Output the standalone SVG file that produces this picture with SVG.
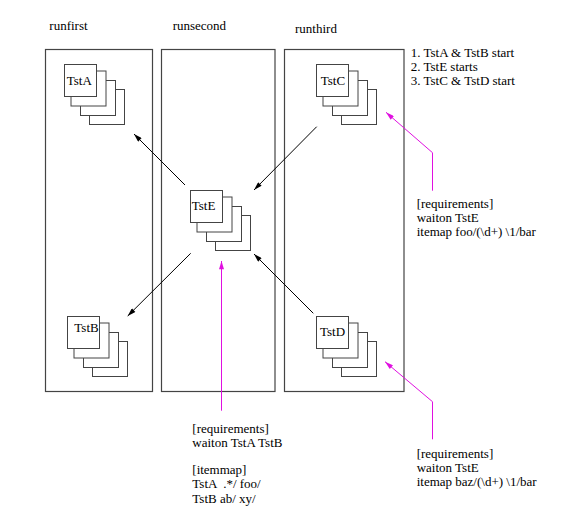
<svg xmlns="http://www.w3.org/2000/svg" width="570" height="523" viewBox="0 0 570 523">
<style>
.col{fill:none;stroke:#444;stroke-width:1.2}
.bx{fill:#fff;stroke:#444;stroke-width:1}
.t{font-family:"Liberation Serif","Times New Roman",serif;font-size:13px;fill:#000}
.blk{stroke:#000;stroke-width:1;fill:none}
.mag{stroke:#e010e0;stroke-width:1;fill:none}
</style>
<defs>
<marker id="ab" markerUnits="userSpaceOnUse" viewBox="0 0 10 6" markerWidth="10" markerHeight="5" refX="10" refY="3" orient="auto">
<path d="M0,0 L10,3 L0,6 Z" fill="#000"/>
</marker>
<marker id="am" markerUnits="userSpaceOnUse" viewBox="0 0 10 6" markerWidth="10" markerHeight="5" refX="10" refY="3" orient="auto">
<path d="M0,0 L10,3 L0,6 Z" fill="#e010e0"/>
</marker>
<g id="stack">
<rect class="bx" x="25" y="25" width="35" height="35"/>
<rect class="bx" x="16" y="16" width="35" height="35"/>
<rect class="bx" x="6.5" y="6.5" width="35" height="35"/>
<rect class="bx" x="0" y="0" width="32" height="32"/>
</g>
</defs>

<g id="runfirst">
<rect class="col" x="45.5" y="49.5" width="107" height="342"/>
<text class="t" x="49.3" y="30">runfirst</text>
</g>
<g id="runsecond">
<rect class="col" x="161.5" y="49.5" width="113.5" height="342"/>
<text class="t" x="172.7" y="30">runsecond</text>
</g>
<g id="runthird">
<rect class="col" x="284.5" y="49.5" width="119.5" height="342"/>
<text class="t" x="295" y="33.3">runthird</text>
</g>

<g id="TstA">
<use href="#stack" x="64.5" y="64.5"/>
<text class="t" x="66.7" y="85">TstA</text>
</g>
<g id="TstE">
<use href="#stack" x="190.5" y="190.5"/>
<text class="t" x="191.7" y="210">TstE</text>
</g>
<g id="TstB">
<use href="#stack" x="67.5" y="316.5"/>
<text class="t" x="74.3" y="331.7">TstB</text>
</g>
<g id="TstC">
<use href="#stack" x="316.5" y="64.5"/>
<text class="t" x="320.7" y="85">TstC</text>
</g>
<g id="TstD">
<use href="#stack" x="316.5" y="316.5"/>
<text class="t" x="320" y="336">TstD</text>
</g>

<g id="connectors">
<line class="blk" x1="185" y1="185" x2="134" y2="134" marker-end="url(#ab)"/>
<line class="blk" x1="190.7" y1="253.3" x2="127.7" y2="316" marker-end="url(#ab)"/>
<line class="blk" x1="316.7" y1="126.7" x2="254" y2="190" marker-end="url(#ab)"/>
<line class="blk" x1="313.3" y1="313.3" x2="254" y2="254" marker-end="url(#ab)"/>
<polyline class="mag" points="432.5,190.7 432.5,152.7 386,112.3" marker-end="url(#am)"/>
<polyline class="mag" points="432.5,439.3 432.5,401.7 385,361.7" marker-end="url(#am)"/>
<line class="mag" x1="221.5" y1="410.7" x2="221.5" y2="261" marker-end="url(#am)"/>
</g>

<g id="legend">
<text class="t" x="410.7" y="56.7">1. TstA &amp; TstB start<tspan x="410.7" dy="14.3">2. TstE starts</tspan><tspan x="410.7" dy="14.2">3. TstC &amp; TstD start</tspan></text>
</g>

<g id="note-center">
<text class="t" x="192.3" y="432.8" style="white-space:pre">[requirements]<tspan x="192.3" dy="14.2">waiton TstA TstB</tspan><tspan x="192.3" dy="27.2">[itemmap]</tspan><tspan x="192.3" dy="14.2">TstA  .*/ foo/</tspan><tspan x="192.3" dy="14.2">TstB ab/ xy/</tspan></text>
</g>
<g id="note-top">
<text class="t" x="416.7" y="207.8">[requirements]<tspan x="416.7" dy="14.2">waiton TstE</tspan><tspan x="416.7" dy="14.2">itemap foo/(\d+) \1/bar</tspan></text>
</g>
<g id="note-bottom">
<text class="t" x="416.7" y="457.8">[requirements]<tspan x="416.7" dy="14.2">waiton TstE</tspan><tspan x="416.7" dy="14.2">itemap baz/(\d+) \1/bar</tspan></text>
</g>
</svg>
